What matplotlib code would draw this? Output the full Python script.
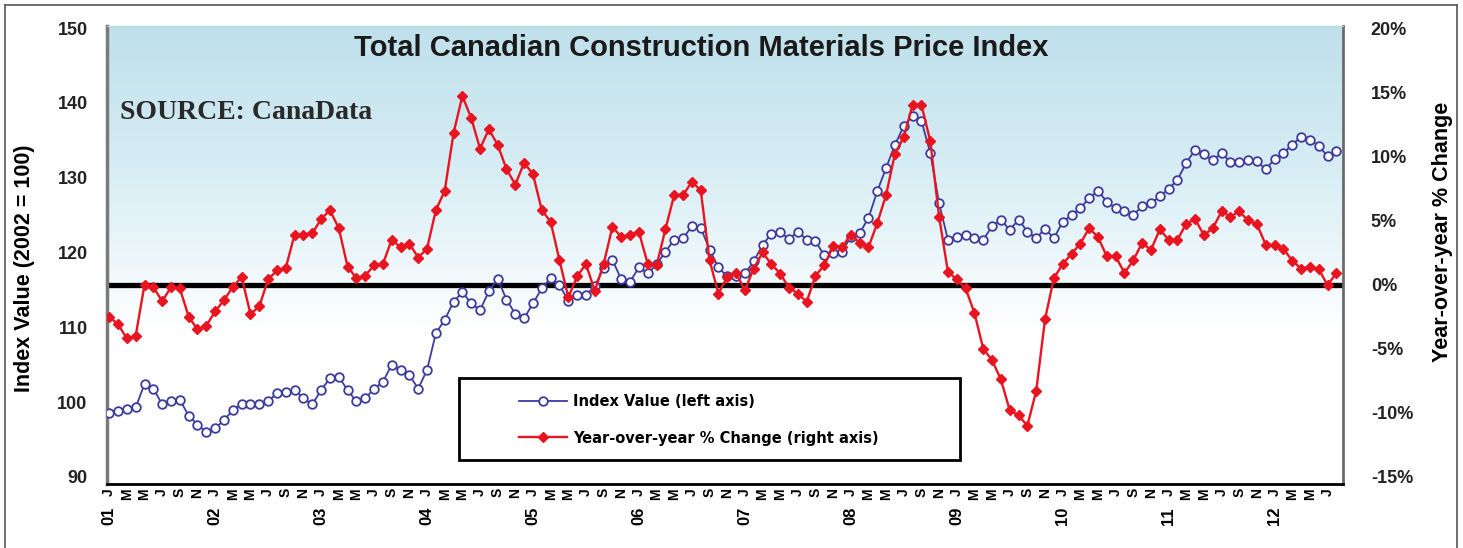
import numpy as np
import matplotlib.pyplot as plt
import matplotlib.transforms as mtransforms
from matplotlib.colors import LinearSegmentedColormap
from matplotlib.patches import Rectangle
from matplotlib.lines import Line2D

# monthly values, Jan 2001 .. Aug 2012
index_values = [
    98.5, 98.8, 99.1, 99.3, 102.4, 101.8, 99.7, 100.2, 100.3, 98.2, 97.0, 96.0,
    96.5, 97.6, 98.9, 99.8, 99.8, 99.7, 100.1, 101.2, 101.4, 101.6, 100.5, 99.7,
    101.6, 103.2, 103.4, 101.6, 100.1, 100.5, 101.8, 102.7, 105.0, 104.3, 103.6, 101.8,
    104.3, 109.2, 111.0, 113.4, 114.7, 113.2, 112.3, 114.8, 116.5, 113.7, 111.8, 111.2,
    113.2, 115.2, 116.6, 115.7, 113.5, 114.3, 114.3, 115.5, 117.9, 119.0, 116.4, 116.1,
    118.0, 117.2, 118.4, 120.1, 121.7, 121.9, 123.5, 123.3, 120.4, 118.0, 116.8, 116.8,
    117.2, 118.8, 121.0, 122.5, 122.7, 121.8, 122.8, 121.7, 121.5, 119.6, 119.9, 120.1,
    122.1, 122.6, 124.6, 128.2, 131.3, 134.4, 136.9, 138.3, 137.6, 133.3, 126.6, 121.7,
    122.1, 122.3, 121.9, 121.7, 123.5, 124.4, 123.0, 124.4, 122.8, 121.9, 123.2, 121.9,
    124.1, 125.0, 125.9, 127.3, 128.2, 126.8, 125.9, 125.5, 125.0, 126.2, 126.6, 127.5,
    128.5, 129.7, 132.0, 133.7, 133.1, 132.3, 133.3, 132.1, 132.1, 132.3, 132.2, 131.1,
    132.5, 133.3, 134.4, 135.5, 135.1, 134.2, 132.9, 133.6,
]
yoy_change = [
    -2.5, -3.1, -4.2, -4.0, 0.0, -0.2, -1.3, -0.2, -0.3, -2.5, -3.5, -3.2,
    -2.1, -1.2, -0.2, 0.6, -2.3, -1.7, 0.4, 1.1, 1.3, 3.9, 3.9, 4.0,
    5.1, 5.8, 4.4, 1.4, 0.5, 0.7, 1.5, 1.6, 3.5, 2.9, 3.2, 2.1,
    2.8, 5.8, 7.3, 11.8, 14.7, 13.0, 10.6, 12.1, 10.9, 9.0, 7.8, 9.5,
    8.6, 5.8, 4.9, 1.9, -1.0, 0.65, 1.6, -0.5, 1.6, 4.5, 3.7, 3.9,
    4.1, 1.6, 1.5, 4.3, 7.0, 7.0, 8.0, 7.35, 1.9, -0.7, 0.6, 0.9,
    -0.45, 1.25, 2.5, 1.6, 0.85, -0.25, -0.7, -1.35, 0.7, 1.5, 3.0, 2.9,
    3.9, 3.25, 2.9, 4.8, 7.0, 10.2, 11.5, 14.0, 14.0, 11.2, 5.3, 1.0,
    0.4, -0.3, -2.2, -5.0, -5.9, -7.4, -9.8, -10.2, -11.0, -8.3, -2.7, 0.5,
    1.6, 2.4, 3.2, 4.4, 3.7, 2.2, 2.2, 0.9, 1.9, 3.25, 2.7, 4.3,
    3.5, 3.5, 4.75, 5.1, 3.85, 4.4, 5.7, 5.3, 5.7, 5.0, 4.7, 3.1,
    3.1, 2.8, 1.85, 1.25, 1.4, 1.2, -0.05, 0.9,
]
month_letters = ['J', 'M', 'M', 'J', 'S', 'N']
year_labels = ['01', '02', '03', '04', '05', '06', '07', '08', '09', '10', '11', '12']
left_ticks = [90, 100, 110, 120, 130, 140, 150]
right_ticks = [-15, -10, -5, 0, 5, 10, 15, 20]

blue = '#3c3c9c'
red = '#e8141f'
months = np.arange(len(index_values))

plt.rcParams['font.family'] = ['Liberation Sans', 'DejaVu Sans']

fig = plt.figure(figsize=(14.63, 5.48), dpi=100)
ax = fig.add_axes([107 / 1463, 1 - 484 / 548, 1236 / 1463, 458 / 548])
ax2 = ax.twinx()

# light blue to white background
bg = LinearSegmentedColormap.from_list('bg', ['#ffffff', '#ffffff', '#d9eef5', '#bfe0eb'])
grad = np.linspace(0, 1, 256).reshape(-1, 1)
ax.imshow(grad, extent=[0, 1, 0, 1], transform=ax.transAxes, aspect='auto',
          cmap=bg, origin='lower', zorder=0)

# zero line of the right axis, under both series
ax.add_line(Line2D([0, 1], [0, 0], color='black', lw=3.8, zorder=1,
                   transform=mtransforms.blended_transform_factory(ax.transAxes, ax2.transData)))

l1, = ax.plot(months, index_values, color=blue, lw=1.3, marker='o', ms=6.2,
              mfc='white', mec=blue, mew=1.3, zorder=3, label='Index Value (left axis)')
l2, = ax2.plot(months, yoy_change, color=red, lw=1.7, marker='D', ms=4.6,
               mfc=red, mec=red, zorder=3, label='Year-over-year % Change (right axis)')

ax.set_xlim(-0.25, 139.75)
ax.set_ylim(89.06, 150.27)
ax2.set_ylim(-15.55, 20.16)

ax.set_yticks(left_ticks)
ax.set_yticklabels([str(v) for v in left_ticks])
ax2.set_yticks(right_ticks)
ax2.set_yticklabels([f'{v}%' for v in right_ticks])
ax.tick_params(axis='y', length=0, pad=14, labelsize=13)
ax2.tick_params(axis='y', length=0, pad=20, labelsize=13)
for lbl in ax.get_yticklabels() + ax2.get_yticklabels():
    lbl.set_fontweight('bold')
    lbl.set_color('#222222')

ax.set_xticks(months[::2])
ax.set_xticklabels([month_letters[(m // 2) % 6] for m in months[::2]],
                   rotation=90, fontsize=10, fontweight='bold')
ax.tick_params(axis='x', length=0, pad=3)
tr = mtransforms.blended_transform_factory(ax.transData, ax.transAxes)
for k, yr in enumerate(year_labels):
    ax.text(12 * k, -0.05, yr, transform=tr, rotation=90, ha='center', va='top',
            fontsize=12, fontweight='bold')

ax.set_ylabel('Index Value (2002 = 100)', fontsize=15.5, fontweight='bold')
ax.yaxis.set_label_coords(-0.058, 0.47)
ax2.set_ylabel('Year-over-year % Change', fontsize=15.5, fontweight='bold',
               rotation=90)
ax2.yaxis.set_label_coords(1.072, 0.55)

ax2.text(0.4806, 0.952, 'Total Canadian Construction Materials Price Index',
         transform=ax2.transAxes, ha='center', va='center', fontsize=21,
         fontweight='bold', color='#1a1a1a')
ax2.text(0.0105, 0.812, 'SOURCE: CanaData', transform=ax2.transAxes, ha='left',
         va='center', fontsize=20, fontweight='bold', color='#2a2a2a',
         family=['Liberation Serif', 'DejaVu Serif'])

for s in ax2.spines.values():
    s.set_visible(False)
ax.spines['left'].set_color('#7a7a7a')
ax.spines['left'].set_linewidth(2.5)
ax.spines['right'].set_color('#6a6a6a')
ax.spines['right'].set_linewidth(2)
ax.spines['bottom'].set_color('black')
ax.spines['bottom'].set_linewidth(2)
ax.spines['top'].set_color('#b0d6e3')
ax.spines['top'].set_linewidth(0.8)

# legend box
ax2.add_patch(Rectangle((0.2848, 0.0524), 0.4053, 0.179, transform=ax2.transAxes,
                        facecolor='white', edgecolor='black', lw=2, zorder=5))
leg = ax2.legend(handles=[l1, l2], loc='center left', bbox_to_anchor=(0.3228, 0.1397),
                 frameon=False, handlelength=3.3, handletextpad=0.4, labelspacing=1.45,
                 prop={'weight': 'bold', 'family': 'DejaVu Sans', 'size': 10.5})
leg.set_zorder(6)

# thin frame round the picture
for xs, ys in [([5, 1457], [5, 5]), ([5, 5], [5, 548]), ([1457, 1457], [5, 548])]:
    fig.add_artist(Line2D([x / 1463 for x in xs], [1 - y / 548 for y in ys],
                          color='#555555', lw=1.2))

fig.savefig('out.png', dpi=100)
